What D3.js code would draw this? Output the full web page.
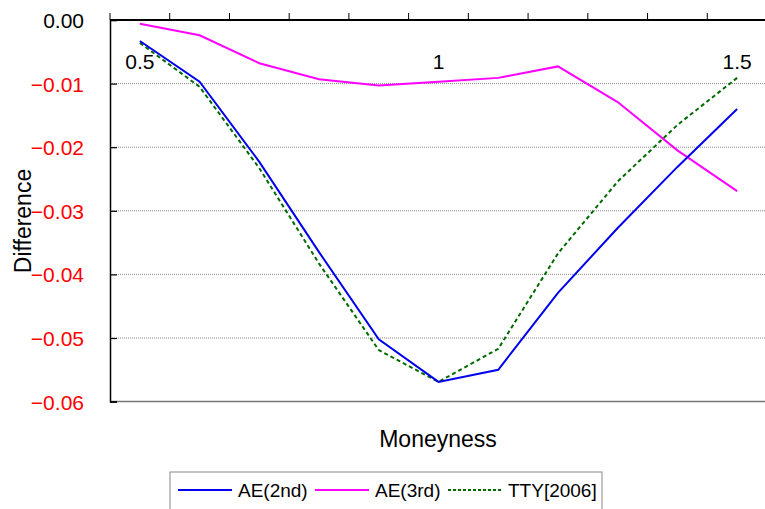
<!DOCTYPE html>
<html><head><meta charset="utf-8">
<script src="https://cdn.jsdelivr.net/npm/d3@7"></script>
<style>body{margin:0;background:#fff}svg{display:block}text{font-family:"Liberation Sans",Arial,sans-serif}</style>
</head><body><svg id="c" width="765" height="509"></svg>
<script>
const categories = ["0.5","0.6","0.7","0.8","0.9","1","1.1","1.2","1.3","1.4","1.5"];
const shownLabels = ["0.5","1","1.5"];
const ae2 = [-0.0033,-0.0097,-0.0223,-0.0365,-0.0502,-0.0569,-0.0550,-0.0429,-0.0327,-0.0231,-0.0140];
const ae3 = [-0.0006,-0.0024,-0.0068,-0.0093,-0.0103,-0.0097,-0.0091,-0.0073,-0.0129,-0.0205,-0.0269];
const tty = [-0.0036,-0.0105,-0.0233,-0.0383,-0.0519,-0.0569,-0.0517,-0.0367,-0.0254,-0.0165,-0.0091];
const yTicks = [0,-0.01,-0.02,-0.03,-0.04,-0.05,-0.06];
const seriesNames = ["AE(2nd)","AE(3rd)","TTY[2006]"];

const svg = d3.select("#c");
const L=110, R=767, T=20, B=401.6;
const x = d3.scaleBand().domain(categories).range([L,R]);
const y = d3.scaleLinear().domain([0,-0.06]).range([T,B]);
const xc = d => x(d)+x.bandwidth()/2;

// gridlines
svg.append("g").selectAll("line").data(yTicks.filter(v=>v<0 && v>-0.06)).join("line")
  .attr("x1",L).attr("x2",765).attr("y1",d=>y(d)).attr("y2",d=>y(d))
  .attr("stroke","#888").attr("stroke-width",1).attr("stroke-dasharray","1,1");
svg.append("line").attr("x1",L).attr("x2",765).attr("y1",y(-0.06)).attr("y2",y(-0.06))
  .attr("stroke","#777").attr("stroke-width",1.5);

// y axis
const yAxis = d3.axisLeft(y).tickValues(yTicks).tickSize(-7).tickPadding(26)
  .tickFormat(d=> d===0 ? "0.00" : "\u2212"+d3.format(".2f")(Math.abs(d)));
const ga = svg.append("g").attr("transform",`translate(${L},0)`).call(yAxis);
ga.select(".domain").attr("stroke","#000").attr("stroke-width",1.5);
ga.selectAll(".tick line").attr("stroke","#000").attr("stroke-width",1.2);
ga.selectAll(".tick text").attr("font-size",21).attr("font-family","Liberation Sans, Arial, sans-serif")
  .attr("fill",d=> d===0 ? "#000" : "#ff0000").attr("dy","0.36em");

// x axis at top
const xAxis = d3.axisTop(x).tickSize(0).tickFormat("");
const gx = svg.append("g").attr("transform",`translate(0,${T})`).call(xAxis);
gx.select(".domain").attr("stroke","#000").attr("stroke-width",2).attr("d",`M${L},0H765`);
svg.append("g").selectAll("line").data(categories).join("line")
  .attr("x1",d=>x(d)).attr("x2",d=>x(d)).attr("y1",T-7).attr("y2",T)
  .attr("stroke","#000").attr("stroke-width",1);
svg.append("g").selectAll("text").data(shownLabels).join("text")
  .attr("x",d=>xc(d)).attr("y",69).attr("text-anchor","middle")
  .attr("font-size",21).attr("fill","#000").text(d=>d);

// lines
const line = d3.line().x((d,i)=>xc(categories[i])).y(d=>y(d));
svg.append("path").datum(ae3).attr("d",line).attr("fill","none").attr("stroke","#ff00ff").attr("stroke-width",2);
svg.append("path").datum(tty).attr("d",line).attr("fill","none").attr("stroke","#006a00").attr("stroke-width",2).attr("stroke-dasharray","4,3");
svg.append("path").datum(ae2).attr("d",line).attr("fill","none").attr("stroke","#0000ee").attr("stroke-width",2);

// axis titles
svg.append("text").attr("x",438).attr("y",447).attr("text-anchor","middle").attr("font-size",23).text("Moneyness");
svg.append("text").attr("transform","translate(31,221) rotate(-90)").attr("text-anchor","middle").attr("font-size",23).text("Difference");

// legend
svg.append("rect").attr("x",170).attr("y",472).attr("width",432).attr("height",50)
  .attr("fill","#fff").attr("stroke","#888").attr("stroke-width",1);
const legItems = [
  {name:seriesNames[0], color:"#0000ee", dash:null, x:178},
  {name:seriesNames[1], color:"#ff00ff", dash:null, x:315},
  {name:seriesNames[2], color:"#006a00", dash:"3,2", x:448}
];
const lg = svg.append("g").selectAll("g").data(legItems).join("g");
lg.append("line").attr("x1",d=>d.x).attr("x2",d=>d.x+54).attr("y1",490).attr("y2",490)
  .attr("stroke",d=>d.color).attr("stroke-width",2).attr("stroke-dasharray",d=>d.dash);
lg.append("text").attr("x",d=>d.x+60).attr("y",497).attr("font-size",19).text(d=>d.name);
</script></body></html>
